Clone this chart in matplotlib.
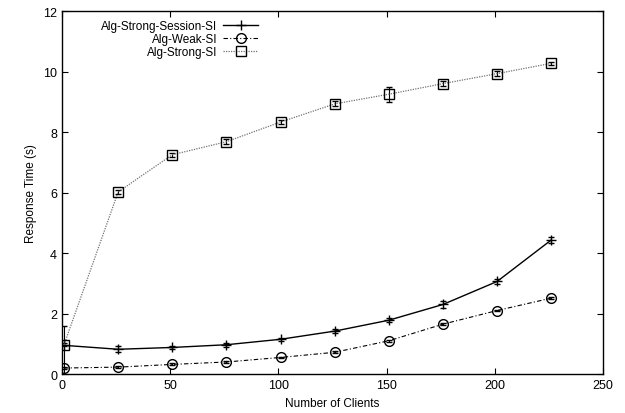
import matplotlib
matplotlib.use("Agg")
import matplotlib.pyplot as plt
from matplotlib.lines import Line2D

plt.rcParams['font.family'] = ['Liberation Sans', 'DejaVu Sans']

clients = [1, 26, 51, 76, 101, 126, 151, 176, 201, 226]
session = [0.95, 0.82, 0.88, 0.97, 1.15, 1.42, 1.78, 2.30, 3.06, 4.43]
session_err_low = [0.95, 0.10, 0.06, 0.06, 0.05, 0.06, 0.06, 0.12, 0.07, 0.10]
session_err_high = [0.65, 0.10, 0.06, 0.06, 0.05, 0.06, 0.06, 0.12, 0.07, 0.10]
weak = [0.20, 0.23, 0.32, 0.40, 0.55, 0.72, 1.10, 1.65, 2.10, 2.51]
weak_err = [0.03, 0.03, 0.03, 0.03, 0.03, 0.03, 0.03, 0.03, 0.03, 0.03]
strong = [0.97, 6.02, 7.25, 7.68, 8.33, 8.93, 9.25, 9.60, 9.93, 10.27]
strong_err = [0.05, 0.08, 0.06, 0.08, 0.08, 0.08, 0.25, 0.08, 0.08, 0.05]
labels = ['Alg-Strong-Session-SI', 'Alg-Weak-SI', 'Alg-Strong-SI']

fig = plt.figure(figsize=(6.25, 4.14), dpi=100)
ax = fig.add_axes([0.099, 0.094, 0.866, 0.877])

sess_style = dict(color='black', lw=1.0, marker='+', ms=7, mew=1.0)
weak_style = dict(color='black', lw=0.8, linestyle=(0, (4, 2, 1, 2)),
                  marker='o', ms=7, mfc='none', mew=1.0)
strong_style = dict(color='0.45', lw=0.9, linestyle=(0, (1, 1)),
                    marker='s', ms=6.5, mfc='none', mec='black', mew=1.0)

ax.errorbar(clients, session, yerr=[session_err_low, session_err_high],
            capsize=2.5, elinewidth=0.8, ecolor='black', **sess_style)
ax.errorbar(clients, weak, yerr=weak_err, capsize=2,
            elinewidth=0.8, ecolor='black', **weak_style)
ax.errorbar(clients, strong, yerr=strong_err, capsize=2,
            elinewidth=0.8, ecolor='black', **strong_style)

ax.set_xlim(0, 250)
ax.set_ylim(0, 12)
ax.set_xticks([0, 50, 100, 150, 200, 250])
ax.set_yticks([0, 2, 4, 6, 8, 10, 12])
ax.tick_params(direction='in', top=True, right=True, labelsize=9, length=4)
for s in ax.spines.values():
    s.set_linewidth(1.0)
ax.set_xlabel('Number of Clients', fontsize=8.5)
ax.set_ylabel('Response Time (s)', fontsize=8.5)

handles = [Line2D([], [], **sess_style), Line2D([], [], **weak_style),
           Line2D([], [], **strong_style)]
leg = ax.legend(handles, labels, loc='upper right',
                bbox_to_anchor=(0.376, 0.995), frameon=False,
                markerfirst=False, fontsize=8.5, handlelength=3,
                handletextpad=0.5, labelspacing=0.1, borderaxespad=0.2)
leg._legend_box.align = 'right'

fig.savefig('out.png', dpi=100)
